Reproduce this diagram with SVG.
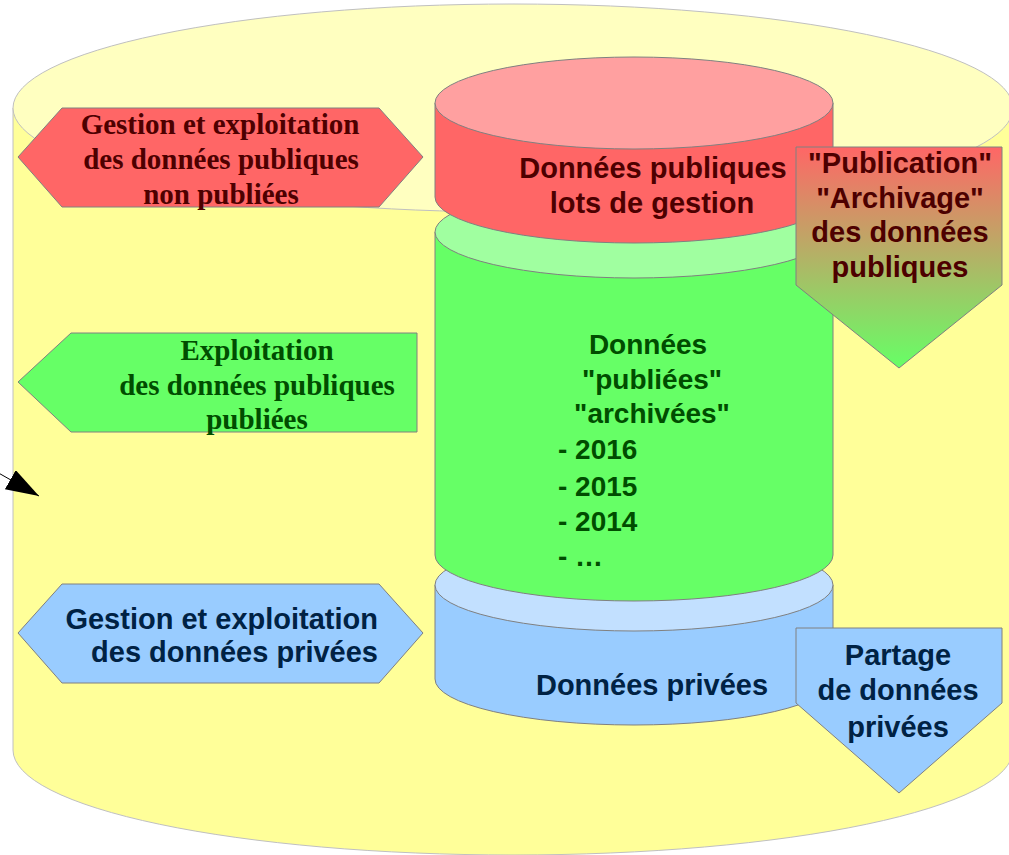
<svg xmlns="http://www.w3.org/2000/svg" width="1009" height="855" viewBox="0 0 1009 855">
<style>
.edge{stroke:#808080;stroke-width:1}
.serif{font-family:"Liberation Serif","Times New Roman",serif;font-weight:bold;font-size:29px;text-anchor:middle}
.sans{font-family:"Liberation Sans",Arial,sans-serif;font-weight:bold;font-size:29px;text-anchor:middle}
.g28{font-size:28px}
.start{text-anchor:start}
.end{text-anchor:end}
.red{fill:#4d0000}
.grn{fill:#004d00}
.blu{fill:#002244}
</style>
<defs>
<linearGradient id="pubgrad" x1="0" y1="0" x2="0" y2="1">
<stop offset="0" stop-color="#ff6666"/>
<stop offset="1" stop-color="#66ff66"/>
</linearGradient>
<marker id="arrow" markerWidth="34" markerHeight="24" refX="33" refY="11" orient="auto" markerUnits="userSpaceOnUse">
<path d="M0,0 L33,11 L0,22 Z" fill="#000"/>
</marker>
</defs>
<rect width="1009" height="855" fill="#ffffff"/>

<g id="outer-cylinder">
<path d="M13,108 L13,750 A500,105 0 0 0 1013,750 L1013,108 Z" fill="#ffff99" stroke="#c0c0c0" stroke-width="1"/>
<ellipse cx="513" cy="108" rx="500" ry="104" fill="#ffffc0" stroke="#c0c0c0" stroke-width="1"/>
</g>

<g id="cyl-blue">
<path class="edge" d="M435,585 L435,679 A199,46 0 0 0 833,679 L833,585 Z" fill="#99ccff"/>
<ellipse class="edge" cx="634" cy="585" rx="199" ry="46" fill="#c2e0ff"/>
<text class="sans blu" x="652" y="695">Données privées</text>
</g>

<g id="cyl-green">
<path class="edge" d="M435,232 L435,555 A199,46 0 0 0 833,555 L833,232 Z" fill="#66ff66"/>
<ellipse class="edge" cx="634" cy="232" rx="199" ry="46" fill="#a0ffa0"/>
<text class="sans g28 grn" x="648" y="354">Données</text>
<text class="sans g28 grn" x="652" y="389">"publiées"</text>
<text class="sans g28 grn" x="652" y="423">"archivées"</text>
<text class="sans g28 grn start" x="558" y="459">- 2016</text>
<text class="sans g28 grn start" x="558" y="496">- 2015</text>
<text class="sans g28 grn start" x="558" y="531">- 2014</text>
<text class="sans g28 grn start" x="558" y="566">- …</text>
</g>

<g id="cyl-red">
<path class="edge" d="M435,103 L435,197 A199,46 0 0 0 833,197 L833,103 Z" fill="#ff6666"/>
<ellipse class="edge" cx="634" cy="103" rx="199" ry="46" fill="#ffa0a0"/>
<text class="sans red" x="653" y="178">Données publiques</text>
<text class="sans red" x="652" y="213">lots de gestion</text>
</g>

<g id="hex-red">
<polygon class="edge" points="18,157 62,108 379,108 423,157 379,207 62,207" fill="#ff6666"/>
<text class="serif red" x="220" y="134">Gestion et exploitation</text>
<text class="serif red" x="221" y="169">des données publiques</text>
<text class="serif red" x="221" y="204">non publiées</text>
</g>

<g id="arrow-green">
<polygon class="edge" points="18,382 71,333 417,333 417,432 71,432" fill="#66ff66"/>
<text class="serif grn" x="257" y="360">Exploitation</text>
<text class="serif grn" x="257" y="395">des données publiques</text>
<text class="serif grn" x="257" y="429">publiées</text>
</g>

<g id="hex-blue">
<polygon class="edge" points="18,633 62,584 379,584 423,633 379,683 62,683" fill="#99ccff"/>
<text class="sans blu end" x="378" y="629">Gestion et exploitation</text>
<text class="sans blu end" x="378" y="662">des données privées</text>
</g>

<g id="publication">
<polygon class="edge" points="796,147 1002,147 1002,285 899,368 796,285" fill="url(#pubgrad)"/>
<text class="sans red" x="900" y="173">"Publication"</text>
<text class="sans red" x="900" y="208">"Archivage"</text>
<text class="sans red" x="900" y="242">des données</text>
<text class="sans red" x="900" y="277">publiques</text>
</g>

<g id="partage">
<polygon class="edge" points="796,628 1002,628 1002,703 899,793 796,703" fill="#99ccff"/>
<text class="sans blu" x="898" y="665">Partage</text>
<text class="sans blu" x="898" y="700">de données</text>
<text class="sans blu" x="898" y="737">privées</text>
</g>

<g id="connectors">
<line x1="-12" y1="467" x2="39" y2="496" stroke="#000" stroke-width="1" marker-end="url(#arrow)"/>
</g>
</svg>
